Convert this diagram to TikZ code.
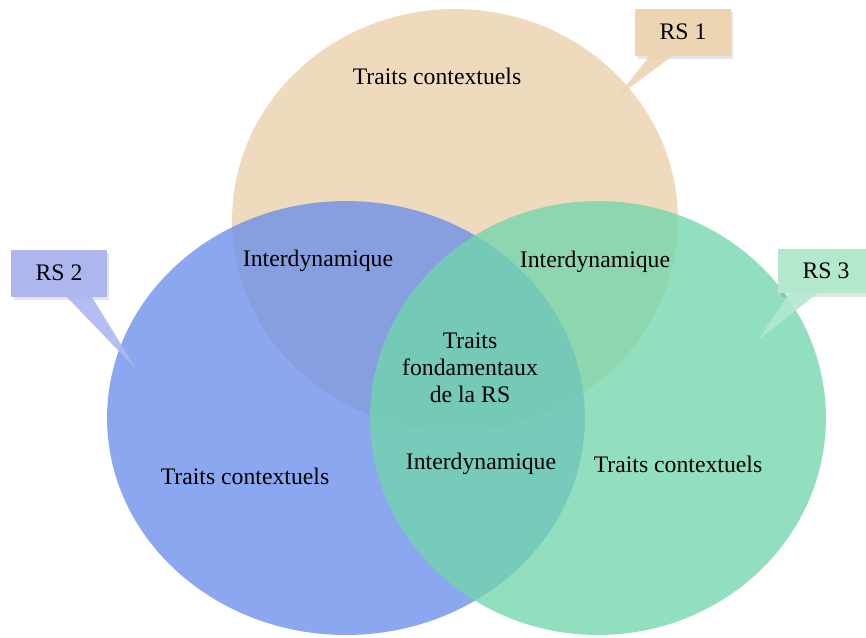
\documentclass[tikz,border=0pt]{standalone}
\usepackage{fontspec}
\setmainfont{Liberation Serif}
\usepackage{tikz}
\usetikzlibrary{shapes.geometric,shadows}

\definecolor{rsorange}{HTML}{F0DABD}
\definecolor{rsblue}{HTML}{648AEB}
\definecolor{rsgreen}{HTML}{70D6AC}
\definecolor{tagorange}{HTML}{EDD4B3}
\definecolor{tagblue}{HTML}{ADB7EE}
\definecolor{taggreen}{HTML}{B3E8CF}

\tikzset{
  rsset/.style={ellipse, draw=none, inner sep=0pt, outer sep=0pt},
  rstext/.style={draw=none, align=center, font=\fontsize{13.5}{15.5}\selectfont},
  rstag/.style={rectangle, draw=none, inner sep=0pt, minimum width=1.92cm, minimum height=0.94cm,
    font=\fontsize{13.5}{15.5}\selectfont},
  tagshadow/.style={drop shadow={fill=black, opacity=0.1, shadow xshift=0.05cm, shadow yshift=-0.07cm}}
}

\begin{document}
\begin{tikzpicture}[x=0.02cm, y=-0.02cm]
% picture frame, 866 x 637
\useasboundingbox (0,0) rectangle (866,637);

% The three sets; blue and green are see-through
\node[rsset, fill=rsorange, minimum width=8.92cm, minimum height=8.44cm] (rs1) at (455,220) {};
\node[rsset, fill=rsblue, fill opacity=0.75, minimum width=9.56cm, minimum height=8.68cm] (rs2) at (346,418) {};
\node[rsset, fill=rsgreen, fill opacity=0.77, minimum width=9.12cm, minimum height=8.68cm] (rs3) at (598,418) {};

% Texts inside the sets
\node[rstext] (ctx1) at (437,76) {Traits contextuels};
\node[rstext] (ctx2) at (245,476) {Traits contextuels};
\node[rstext] (ctx3) at (678,464) {Traits contextuels};
\node[rstext] (inter12) at (318,261) {Interdynamique};
\node[rstext] (inter13) at (595,262) {Interdynamique};
\node[rstext] (inter23) at (481,464) {Interdynamique};
\node[rstext] (core) at (470,368) {Traits\\fondamentaux\\de la RS};

% Callout tags with their pointers
\node[rstag, fill=tagorange, tagshadow] (tag1) at (683,32) {RS 1};
\coordinate (tip1) at (617,97);
\fill[tagorange, fill opacity=0.9] ([xshift=0.3cm]tag1.south west) -- (tip1) -- ([xshift=0.76cm]tag1.south west) -- cycle;

\node[rstag, fill=tagblue, tagshadow] (tag2) at (59,273) {RS 2};
\coordinate (tip2) at (137,370);
\fill[tagblue, fill opacity=0.9] ([xshift=1.12cm]tag2.south west) -- (tip2) -- ([xshift=1.62cm]tag2.south west) -- cycle;

\node[rstag, fill=taggreen, minimum height=0.88cm, tagshadow] (tag3) at (826,271) {RS 3};
\coordinate (tip3) at (758,340);
\fill[taggreen, fill opacity=0.9] ([xshift=0.24cm]tag3.south west) -- (tip3) -- ([xshift=0.8cm]tag3.south west) -- cycle;
\end{tikzpicture}
\end{document}
